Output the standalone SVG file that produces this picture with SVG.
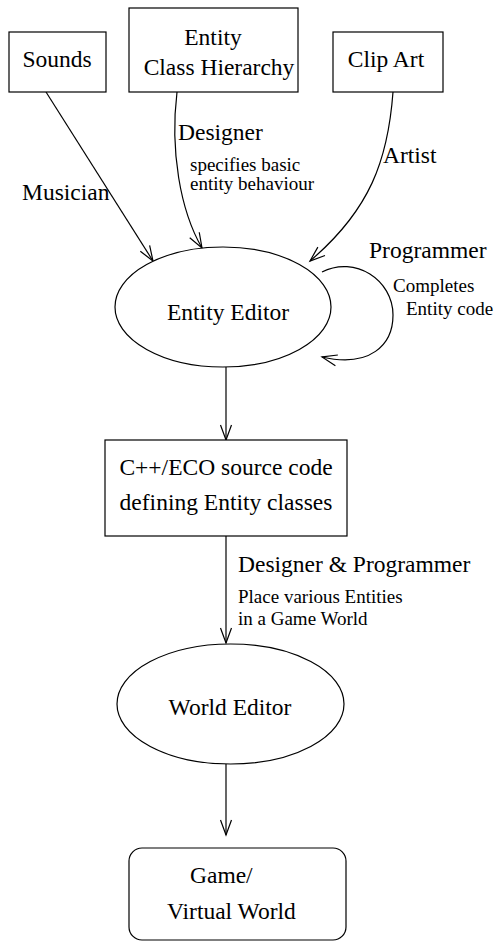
<svg xmlns="http://www.w3.org/2000/svg" width="494" height="942" viewBox="0 0 494 942">
  <style>
    .shape { fill: #fff; stroke: #000; stroke-width: 1.2; }
    .edge { fill: none; stroke: #000; stroke-width: 1.2; marker-end: url(#arrow); }
    text { font-family: "Liberation Serif", "Times New Roman", serif; fill: #000; }
    .big { font-size: 23.5px; }
    .small { font-size: 19px; }
    .mid { text-anchor: middle; }
  </style>
  <defs>
    <marker id="arrow" markerUnits="userSpaceOnUse" markerWidth="20" markerHeight="14" refX="0" refY="0" viewBox="-16 -7 18 14" orient="auto">
      <path d="M-15,-5.5 L0,0 L-15,5.5" fill="none" stroke="#000" stroke-width="1.2"/>
    </marker>
  </defs>

  <rect width="494" height="942" fill="#fff"/>

  <g id="connectors">
    <path class="edge" d="M46,92 L153,261"/>
    <path class="edge" d="M177,92 C170,150 180,210 202,248"/>
    <path class="edge" d="M393,92 C388,160 370,210 310,261"/>
    <path class="edge" d="M322,272 C355,255 393,280 393,315 C393,345 370,368 322,357"/>
    <path class="edge" d="M226,367 L226,440"/>
    <path class="edge" d="M226,536 L226,643"/>
    <path class="edge" d="M226,764 L226,835"/>
  </g>

  <g id="edge-labels">
    <text class="big" x="22" y="200">Musician</text>
    <text class="big" x="178" y="140">Designer</text>
    <text class="small" x="190" y="171">specifies basic</text>
    <text class="small" x="190" y="190">entity behaviour</text>
    <text class="big" x="383" y="163">Artist</text>
    <text class="big" x="369" y="258">Programmer</text>
    <text class="small" x="393" y="292">Completes</text>
    <text class="small" x="406" y="315">Entity code</text>
    <text class="big" x="238" y="572">Designer &amp; Programmer</text>
    <text class="small" x="238" y="603">Place various Entities</text>
    <text class="small" x="238" y="625">in a Game World</text>
  </g>

  <g id="sounds">
    <rect class="shape" x="9" y="32" width="97" height="60"/>
    <text class="big mid" x="57" y="67">Sounds</text>
  </g>

  <g id="entity-class-hierarchy">
    <rect class="shape" x="129" y="8" width="169" height="84"/>
    <text class="big mid" x="213" y="45">Entity</text>
    <text class="big mid" x="219" y="75">Class Hierarchy</text>
  </g>

  <g id="clip-art">
    <rect class="shape" x="333" y="32" width="110" height="60"/>
    <text class="big mid" x="386" y="67">Clip Art</text>
  </g>

  <g id="entity-editor">
    <ellipse class="shape" cx="223" cy="307" rx="108" ry="60"/>
    <text class="big mid" x="228" y="320">Entity Editor</text>
  </g>

  <g id="source-code">
    <rect class="shape" x="105" y="440" width="242" height="96"/>
    <text class="big mid" x="226" y="475">C++/ECO source code</text>
    <text class="big mid" x="226" y="510">defining Entity classes</text>
  </g>

  <g id="world-editor">
    <ellipse class="shape" cx="230.5" cy="704" rx="113.5" ry="60"/>
    <text class="big mid" x="230" y="715">World Editor</text>
  </g>

  <g id="game-world">
    <rect class="shape" x="129" y="848" width="217" height="92" rx="13" ry="13"/>
    <text class="big" x="190" y="883">Game/</text>
    <text class="big" x="167" y="919">Virtual World</text>
  </g>
</svg>
